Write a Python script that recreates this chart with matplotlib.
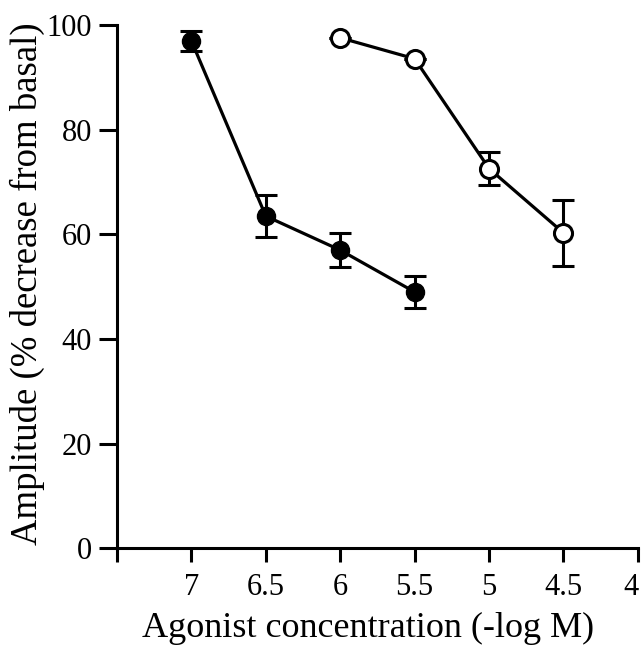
import matplotlib
matplotlib.use("Agg")
import matplotlib.pyplot as plt
import matplotlib.transforms as mtransforms

# data
conc_filled = [7.0, 6.5, 6.0, 5.5]
amp_filled = [97.0, 63.5, 57.0, 49.0]
err_filled = [2.0, 4.0, 3.2, 3.0]

conc_open = [6.0, 5.5, 5.0, 4.5]
amp_open = [97.6, 93.6, 72.6, 60.3]
err_open = [0.0, 0.0, 3.2, 6.3]

xticks = [7, 6.5, 6, 5.5, 5, 4.5, 4]
xticklabels = ["7", "6.5", "6", "5.5", "5", "4.5", "4"]
yticks = [0, 20, 40, 60, 80, 100]


def main():
    plt.rcParams["font.family"] = ["Liberation Serif", "DejaVu Serif"]
    fig = plt.figure(figsize=(6.43, 6.48), dpi=100)
    ax = fig.add_axes([0.182, 0.154, 0.810, 0.807])

    ax.errorbar(conc_filled, amp_filled, yerr=err_filled, color="black",
                marker="o", markersize=13, markerfacecolor="black",
                markeredgecolor="black", linewidth=2.3, elinewidth=2.2,
                capsize=8, capthick=2.2, clip_on=False, zorder=3)
    ax.errorbar(conc_open, amp_open, yerr=err_open, color="black",
                marker="o", markersize=13, markerfacecolor="white",
                markeredgecolor="black", markeredgewidth=2.2, linewidth=2.3,
                elinewidth=2.2, capsize=8, capthick=2.2, clip_on=False, zorder=3)

    ax.set_xlim(7.5, 4)
    ax.set_ylim(0, 100)
    ax.set_xticks([7.5] + xticks)
    ax.set_xticklabels([""] + xticklabels)
    ax.set_yticks(yticks)

    for s in ["top", "right"]:
        ax.spines[s].set_visible(False)
    for s in ["left", "bottom"]:
        ax.spines[s].set_linewidth(2.2)
    ax.tick_params(axis="both", direction="out", width=2.2,
                   labelsize=22, colors="black")
    ax.tick_params(axis="x", length=10, pad=8)
    ax.tick_params(axis="y", length=13, pad=5)

    # last label sits against the right edge, nudge it in a little
    last = ax.get_xticklabels()[-1]
    last.set_transform(last.get_transform() + mtransforms.ScaledTranslation(
        -5 / 72, 0, fig.dpi_scale_trans))

    ax.set_xlabel("Agonist concentration (-log M)", fontsize=26)
    ax.set_ylabel("Amplitude (% decrease from basal)", fontsize=26.5)
    ax.xaxis.set_label_coords(0.482, -0.121)
    ax.yaxis.set_label_coords(-0.139, 0.505)

    fig.savefig("out.png", dpi=100)


if __name__ == '__main__':
    main()
